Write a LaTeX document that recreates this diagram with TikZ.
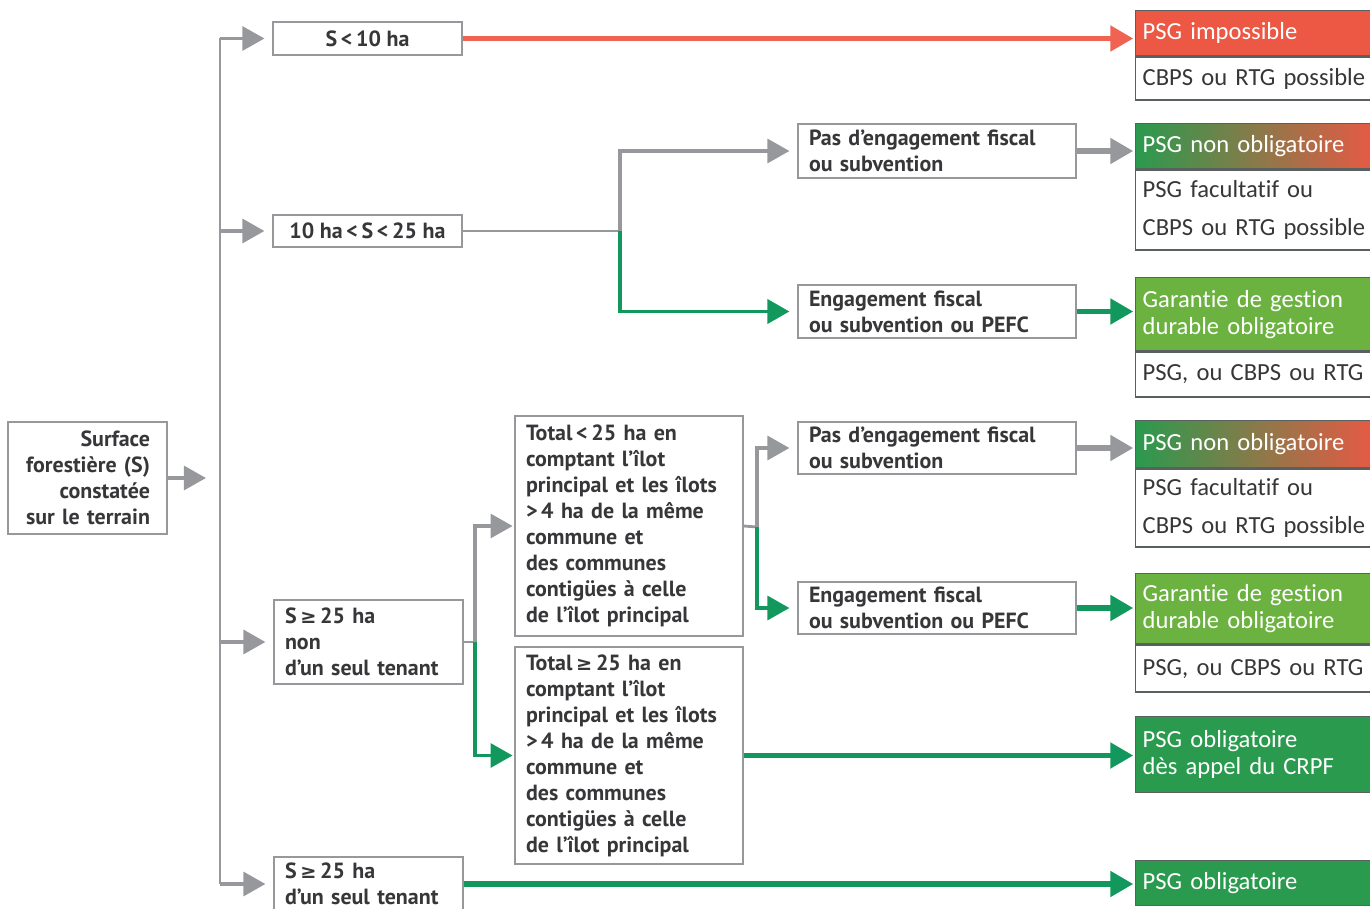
\documentclass[tikz,border=0pt]{standalone}
\usepackage{fontspec}
\setmainfont{PT Sans}
\newfontfamily\rondfont[Ligatures=NoCommon]{Carlito}
\newfontfamily\symbfont{DejaVu Sans}
\newcommand{\supeg}{{\symbfont\fontsize{11}{14.8}\selectfont ≥}}
\usetikzlibrary{arrows.meta}
\definecolor{gris}{RGB}{150,152,156}
\definecolor{texte}{RGB}{55,55,58}
\definecolor{bord}{RGB}{90,95,95}
\definecolor{vertfl}{RGB}{18,152,92}
\definecolor{rougefl}{RGB}{240,98,82}
\definecolor{rougef}{RGB}{236,88,68}
\definecolor{vertc}{RGB}{108,178,64}
\definecolor{vertf}{RGB}{42,154,78}
\definecolor{brun}{RGB}{170,120,70}
\begin{document}
\begin{tikzpicture}[x=0.02cm,y=-0.02cm]
	% définition des styles
	\tikzstyle{gauche}=[rectangle,draw=gris,line width=0.8pt,fill=white,text=texte,font=\bfseries\fontsize{12.5}{14.8}\selectfont,inner xsep=0.22cm,inner ysep=0pt]
	\tikzstyle{droite}=[rectangle,draw=bord,line width=0.8pt,anchor=north west,minimum width=4.9cm,text width=4.62cm,align=left,inner xsep=0.14cm,inner ysep=0pt,font=\rondfont\fontsize{14}{15.5}\selectfont]
	\tikzstyle{entete}=[droite,text=white]
	\tikzstyle{corps}=[droite,fill=white,text=texte,font=\rondfont\fontsize{14}{21.5}\selectfont]
	\tikzstyle{trait}=[gris,line width=1.6pt]
	\tikzstyle{grise}=[-{Triangle[length=0.44cm,width=0.48cm]},gris,line width=1.8pt]
	\tikzstyle{grasse}=[-{Triangle[length=0.46cm,width=0.5cm]},gris,line width=3pt]
	\tikzstyle{verte}=[-{Triangle[length=0.44cm,width=0.48cm]},vertfl,line width=1.8pt]
	\tikzstyle{vertegr}=[-{Triangle[length=0.46cm,width=0.5cm]},vertfl,line width=3pt]
	\tikzstyle{rouge}=[-{Triangle[length=0.46cm,width=0.5cm]},rougefl,line width=3pt]
	\clip (0,0) rectangle (1370,909);
	% les nœuds de gauche
	\node[gauche,minimum width=3.18cm,minimum height=2.24cm,text width=2.5cm,align=right,inner xsep=0.34cm] (src) at (87.5,478) {Surface\\forestière (S)\\constatée\\sur le terrain};
	\node[gauche,minimum width=3.78cm,minimum height=0.66cm] (s1) at (367.5,38.5) {S\,<\,10 ha};
	\node[gauche,minimum width=3.78cm,minimum height=0.64cm] (s2) at (367.5,231) {10 ha\,<\,S\,<\,25 ha};
	\node[gauche,minimum height=1.68cm,text width=3.34cm,align=left] (s3) at (368.5,642) {S\,\supeg\,25 ha\\non\\d’un seul tenant};
	\node[gauche,minimum height=1.08cm,text width=3.34cm,align=left] (s4) at (368.5,884) {S\,\supeg\,25 ha\\d’un seul tenant};
	\node[gauche,minimum height=4.4cm,text width=4.12cm,align=left] (t1) at (629,526) {Total\,<\,25 ha en\\comptant l’îlot\\principal et les îlots\\>\,4 ha de la même\\commune et\\des communes\\contigües à celle\\de l’îlot principal};
	\node[gauche,minimum height=4.34cm,text width=4.12cm,align=left] (t2) at (629,755.5) {Total\,\supeg\,25 ha en\\comptant l’îlot\\principal et les îlots\\>\,4 ha de la même\\commune et\\des communes\\contigües à celle\\de l’îlot principal};
	\node[gauche,minimum height=1.08cm,text width=5.12cm,align=left] (e1) at (937,151) {Pas d’engagement fiscal\\ou subvention};
	\node[gauche,minimum height=1.06cm,text width=5.12cm,align=left] (e2) at (937,311.5) {Engagement fiscal\\ou subvention ou PEFC};
	\node[gauche,minimum height=1.04cm,text width=5.12cm,align=left] (e3) at (937,448) {Pas d’engagement fiscal\\ou subvention};
	\node[gauche,minimum height=1.04cm,text width=5.12cm,align=left] (e4) at (937,608) {Engagement fiscal\\ou subvention ou PEFC};
	% les résultats à droite
	\node[entete,fill=rougef,minimum height=0.9cm] (r1) at (1135,10) {PSG impossible};
	\node[corps,minimum height=0.86cm] (r1b) at (r1.south west) {CBPS ou RTG possible};
	\node[entete,left color=vertf,middle color=brun,right color=rougef,minimum height=0.9cm] (r2) at (1135,123) {PSG non obligatoire};
	\node[corps,minimum height=1.6cm] (r2b) at (r2.south west) {PSG facultatif ou\\CBPS ou RTG possible};
	\node[entete,fill=vertc,minimum height=1.46cm] (r3) at (1135,277) {Garantie de gestion\\durable obligatoire};
	\node[corps,minimum height=0.9cm] (r3b) at (r3.south west) {PSG, ou CBPS ou RTG};
	\node[entete,left color=vertf,middle color=brun,right color=rougef,minimum height=0.94cm] (r4) at (1135,420) {PSG non obligatoire};
	\node[corps,minimum height=1.56cm] (r4b) at (r4.south west) {PSG facultatif ou\\CBPS ou RTG possible};
	\node[entete,fill=vertc,minimum height=1.4cm] (r5) at (1135,573) {Garantie de gestion\\durable obligatoire};
	\node[corps,minimum height=0.94cm] (r5b) at (r5.south west) {PSG, ou CBPS ou RTG};
	\node[entete,fill=vertf,minimum height=1.52cm] (r6) at (1135,716) {PSG obligatoire\\dès appel du CRPF};
	\node[entete,fill=vertf,minimum height=0.9cm] (r7) at (1135,860) {PSG obligatoire};
	% les points d'embranchement
	\coordinate (tronc) at (220,478);
	\coordinate (b1) at (620,231);
	\coordinate (b2) at (475,642);
	\coordinate (b3) at (757,527);
	% les flèches
	\draw[grise,shorten >=8pt] (src.east) -- (tronc);
	\draw[trait] (s1.west -| tronc) -- (s4.west -| tronc);
	\foreach \n in {s1,s2,s3,s4}
		\draw[grise,shorten >=4.5pt] (\n.west -| tronc) -- (\n.west);
	\draw[rouge,shorten >=1pt] (s1.east) -- (s1.east -| r1.west);
	\draw[trait] (s2.east) -- (b1);
	\draw[grise,shorten >=4.5pt] (b1) |- (e1);
	\draw[verte,line width=2.2pt,shorten >=4.5pt] (b1) |- (e2);
	\draw[grasse,shorten >=1pt] (e1.east) -- (e1.east -| r2.west);
	\draw[vertegr,shorten >=1pt] (e2.east) -- (e2.east -| r3.west);
	\draw[trait] (s3.east) -- (b2);
	\draw[grise,shorten >=1pt] (b2) |- (t1);
	\draw[verte,shorten >=1pt] (b2) |- (t2);
	\draw[trait] (t1.east) -- (b3);
	\draw[grise,shorten >=4.5pt] (b3) |- (e3);
	\draw[verte,shorten >=4.5pt] (b3) |- (e4);
	\draw[grasse,shorten >=1pt] (e3.east) -- (e3.east -| r4.west);
	\draw[vertegr,shorten >=1pt] (e4.east) -- (e4.east -| r5.west);
	\draw[vertegr,shorten >=1pt] (t2.east) -- (t2.east -| r6.west);
	\draw[vertegr,shorten >=1pt] (s4.east) -- (s4.east -| r7.west);
\end{tikzpicture}
\end{document}
